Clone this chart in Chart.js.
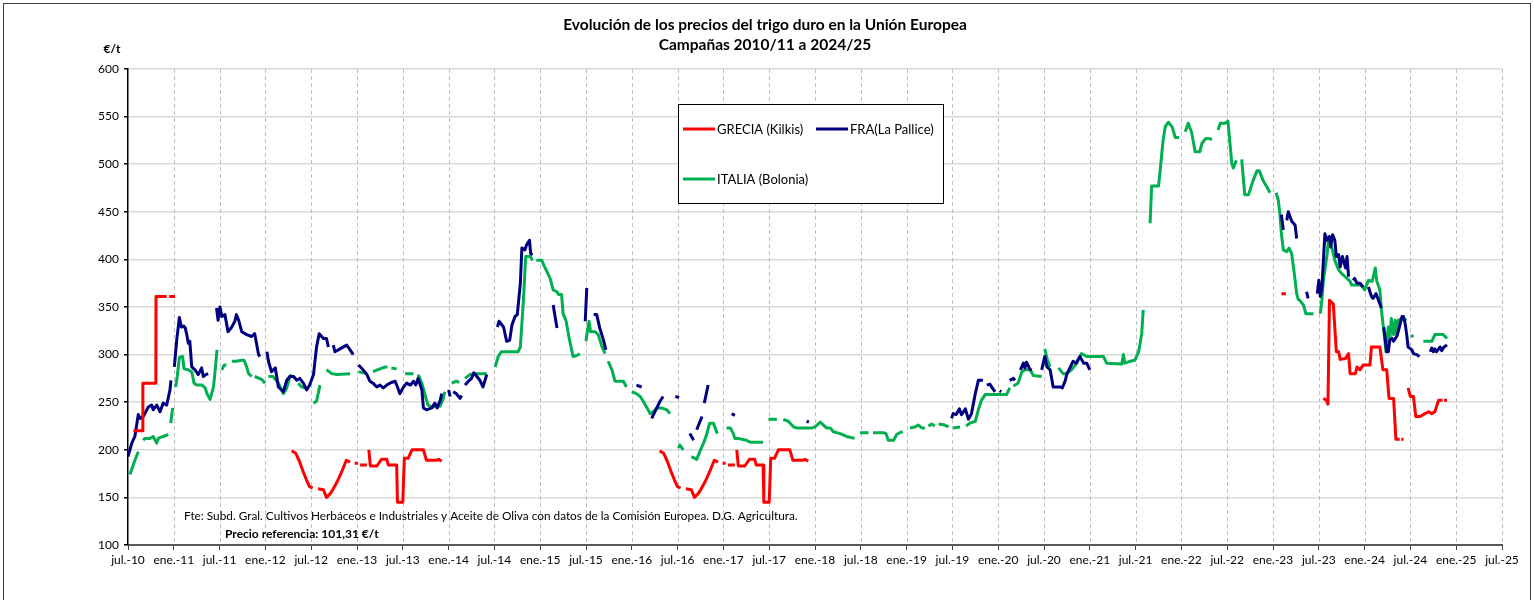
<!DOCTYPE html>
<html>
<head>
<meta charset="utf-8">
<title>Evolución de los precios del trigo duro</title>
<script src="https://cdn.jsdelivr.net/npm/chart.js@4.4.1/dist/chart.umd.min.js"></script>
<style>
  body { margin: 0; background: #fff; }
  #wrap { width: 1534px; height: 600px; }
</style>
</head>
<body>
<div id="wrap"><canvas id="trigoChart" width="1534" height="600"></canvas></div>
<script>
// x = months since jul.-10, null value = gap in the series
var greciaX = [0.7, 1.93, 1.95, 3.65, 3.67, 5.07, 5.1, 5.4, 6.16, 6.2,
  21.45, 22.0, 22.5, 23.0, 23.4, 23.8, 24.2, 24.5, 24.9, 25.6, 26.0, 26.5, 26.9, 27.5, 28.0, 28.6, 29.1, 29.4, 29.7, 30.1, 30.25, 30.4, 31.3, 31.4,
  31.55, 31.75, 32.6, 33.2, 33.9, 34.1, 35.2, 35.3, 36.0, 36.2, 36.7, 37.2, 38.7, 39.1, 40.4, 40.7, 41.1, 41.3,
  69.65, 70.2, 70.7, 71.2, 71.6, 72.0, 72.4, 72.7, 73.1, 73.8, 74.2, 74.7, 75.1, 75.7, 76.2, 76.8, 77.3, 77.6, 77.9, 78.3, 78.45, 78.6, 79.5, 79.6,
  79.75, 79.95, 80.8, 81.4, 82.1, 82.3, 83.2, 83.3, 84.0, 84.2, 84.7, 85.2, 86.7, 87.1, 88.4, 88.7, 89.1, 89.3,
  151.1, 151.7, 152,
  156.6, 157.0, 157.2, 157.4, 157.9, 158.3, 158.6, 158.8, 159.5, 159.9, 160.1, 160.8, 161.0, 161.4, 161.8, 162.7, 162.9, 164.0, 164.4, 164.9, 165.2, 165.8, 166.1, 166.6, 166.7, 166.8, 167.1, 167.4,
  167.7, 168.0, 168.4, 168.7, 169.3, 169.9, 170.4, 170.8, 171.2, 171.7, 172.2, 172.3, 172.4, 172.8];
var greciaY = [220, 220, 270, 270, 361, 361, null, 361, 361, null,
  199, 196, 187, 176, 168, 161, 160, null, 159, 158, 150, 154, 159, 168, 177, 189, 187, null, 186, 186, null, 184, 184, null,
  200, 183, 183, 190, 190, 184, 184, 145, 145, 191, 191, 200, 200, 189, 189, 190, 188, null,
  199, 196, 187, 176, 168, 161, 160, null, 159, 158, 150, 154, 159, 168, 177, 189, 187, null, 186, 186, null, 184, 184, null,
  200, 183, 183, 190, 190, 184, 184, 145, 145, 191, 191, 200, 200, 189, 189, 190, 188, null,
  364, 364, null,
  254, 252, 248, 357, 353, 303, 303, 295, 296, 301, 280, 280, 287, 284, 289, 289, 308, 308, 284, 284, 254, 254, 211, 211, null, 211, 211, null,
  265, 256, 256, 235, 235, 238, 240, 238, 240, 252, 252, null, 252, 252];

var fraX = [0, 0.5, 0.9, 1.35, 1.6, 2.0, 2.66, 3.1, 3.3, 3.76, 4.2, 4.6, 5.07, 5.5, 5.63, 5.8,
  6.07, 6.38, 6.73, 7.0, 7.3, 7.5, 7.7, 7.9, 8.1, 8.35, 8.78, 9.2, 9.65, 9.86, 10.2, 10.5, 11.0,
  11.6, 11.8, 12.05, 12.3, 12.7, 13.1, 13.6, 14.0, 14.2, 14.5, 14.9, 15.55, 16.2, 16.6, 17.1, 17.3, 17.8,
  18.2, 18.4, 18.8, 19.3, 19.7, 20.35, 20.8, 21.2, 21.7, 22.1, 22.5, 22.97, 23.4, 23.8, 24.3, 24.7, 25.05, 25.6, 26.0, 26.25, 26.6,
  26.9, 27.1, 27.55, 28.0, 28.65, 29.1, 29.5, 29.8,
  30.2, 30.8, 31.3, 31.7, 32.1, 32.6, 33.0, 33.45, 33.9, 34.3, 35.0, 35.3, 35.6, 36.1, 36.5, 37.0, 37.4, 37.7, 38.0, 38.5, 38.7, 39.1, 39.8, 40.2, 40.5, 40.9, 41.1, 41.5,
  42.0, 42.2, 42.4, 42.6, 43.0, 43.5, 43.7, 43.9,
  44.15, 44.6, 45.0, 45.3, 45.7, 46.1, 46.5, 47.0, 47.5,
  48.4, 48.6, 49.2, 49.6, 50.0, 50.3, 50.7, 51.0, 51.4, 51.6, 52.0, 52.2, 52.6, 52.75, 53.0, 54,
  55.7, 56.2, 57, 59.9, 60.1, 60.5,
  61.0, 61.4, 61.8, 62.3, 62.6, 63, 66.6, 67.3, 68,
  68.6, 69.7, 70.1, 71, 71.7, 72.2, 73, 73.6, 74.1, 74.3, 74.5, 75.2, 75.35, 75.5, 76.0, 77, 79.1, 79.5, 80, 88.9, 89.2, 90,
  107.9, 108.1, 108.5, 108.9, 109.2, 109.7, 110.1, 110.5, 111.0, 111.4, 112.0, 112.2,
  112.5, 112.9, 113.4, 113.6, 113.9, 114.2, 114.4, 114.9, 115.5, 116.0, 116.2, 116.5,
  116.9, 117.3, 117.5, 117.7, 118.2, 118.4, 119,
  119.7, 120.1, 120.4, 120.8, 121.2, 121.7, 122.1, 122.4, 122.8, 123.0, 123.4, 123.8, 124.2, 124.7, 125.2, 125.6, 126.0, 127,
  151.1, 151.35, 151.6, 151.8, 152.0, 152.45, 152.9, 153.1, 153.8, 154.4, 154.6, 155.2,
  155.8, 156.0, 156.2, 156.4, 156.8, 157.0, 157.4, 157.55, 157.8, 158.1, 158.3, 158.6, 158.8, 159.1, 159.5, 159.7, 159.9, 160.2,
  160.5, 160.7, 161.0, 161.4, 161.8, 162.1, 162.5, 162.9, 163.1, 163.5, 164.2, 164.35,
  164.5, 164.9, 165.1, 165.3, 165.6, 165.8, 166.2, 166.4, 166.9, 167.1, 167.3, 167.5, 167.7, 168.2, 168.4, 168.8, 169.2, 169.9,
  170.6, 170.8, 171.0, 171.2, 171.4, 171.9, 172.1, 172.4, 172.8];
var fraY = [193, 207, 214, 237, 233, 235, 245, 247, 242, 247, 240, 249, 247, 263, 273, null,
  287, 315, 339, 329, 330, 328, 321, 312, 314, 287, 284, 279, 286, 277, 279, 280, null,
  349, 336, 350, 340, 342, 324, 329, 335, 342, 336, 324, 321, 319, 322, 300, 298, null,
  303, 293, 282, 286, 266, 261, 273, 277, 277, 273, 275, 270, 263, 268, 279, 308, 322, 317, 317, 308, null,
  310, 303, 305, 307, 310, 305, 300, null,
  289, 284, 279, 272, 270, 266, 268, 265, 268, 270, 272, 266, 259, 266, 270, 268, 272, 268, 275, 263, 244, 242, 244, 249, 244, 252, 259, null,
  263, 256, null, 261, 259, 254, 257, null,
  268, 272, 275, 281, 277, 273, 266, 279, null,
  329, 335, 329, 314, 315, 331, 340, 342, 375, 412, 410, 415, 420, 406, 405, null,
  352, 328, null, 335, 370, null,
  342, 342, 328, 315, 305, null, 268, 266, null,
  233, 251, 256, null, 256, 255, null, 217, 210, null, 221, 235, null, 249, 268, null, 238, 236, null, 230, 229, null,
  233, 238, 237, 243, 237, 243, 232, 238, 259, 273, 273, null,
  268, 269, 263, 261, null, 262, 261, null, 273, 275, 273, null,
  284, 291, 286, 292, 284, 284, null,
  284, 298, 287, 284, 266, 266, 266, 265, 273, 280, 286, 293, 291, 298, 291, 291, 284, null,
  447, 431, null, 441, 450, 440, 436, 422, null, 366, 359, null,
  364, 378, 361, 370, 427, 420, 424, 413, 426, 420, 403, 405, 392, 403, 391, 403, 382, null,
  378, 380, 375, 375, 371, null, 371, 361, 359, 364, 349, null,
  329, 303, 303, 315, 317, 314, 319, 324, 340, 340, 333, 322, 308, 305, 301, 300, 298, null,
  303, 307, 303, 306, 303, 308, 304, 308, 310];

var italiaX = [0.26, 0.9, 1.35, 1.7,
  2.0, 2.2, 2.9, 3.3, 3.76, 3.97, 4.6, 5.28, 5.45, 5.6, 5.85, 6.0,
  6.24, 6.45, 6.73, 7.15, 7.34, 7.9, 8.35, 8.65, 9.0, 9.7, 10.1, 10.4, 10.75, 11.2, 11.4, 11.66, 12.0,
  12.3, 12.6, 12.9, 13.3, 13.6, 14.2, 14.9, 15.2, 15.55, 15.8, 16.2, 16.4, 16.6, 17.5, 17.95, 18.2,
  18.4, 19.0, 19.7, 20.35, 20.8, 21.2, 21.45, 21.9, 22.3, 22.75, 23.4, 23.9, 24.3, 24.7, 25.15, 25.6,
  26.0, 26.7, 27.35, 29.1, 29.6, 30.2, 31.3, 31.7, 32.1, 33.0, 33.7, 34.0, 34.3, 34.5, 35.2, 35.8,
  36.3, 37.4, 37.7, 38.0, 38.5, 38.9, 39.3, 39.8, 40.9, 41.3, 41.5, 42.0,
  42.4, 43.0, 43.4, 43.8, 44.15, 44.8, 45.5, 47.0, 47.6,
  48.1, 48.5, 48.9, 51.1, 51.4, 51.8, 52.1, 52.7, 53.0, 53.3,
  53.5, 54.2, 54.6, 55.3, 55.7, 56.2, 56.4, 56.8, 57.0, 57.4, 57.8, 58.3, 58.8, 59.2, 59.6,
  60.0, 60.2, 60.4, 60.6, 61.2, 61.6, 62.1, 62.5, 62.7,
  62.9, 63.4, 63.8, 64.9, 65.3, 65.6,
  66.0, 66.6, 67.1, 67.5, 68.0, 68.4, 68.8, 69.3, 69.9, 70.6, 71.0, 71.5,
  72.1, 72.3, 72.75, 73.2,
  73.8, 74.5, 74.9, 75.4, 75.8, 76.2, 76.7, 77.2, 77.8,
  78.4, 78.9, 79.3, 79.5, 80.0, 80.4, 81.0, 81.5, 83.2, 83.5,
  83.9, 85.0, 85.4, 85.85, 86.5, 87.2, 87.6, 89.6, 90.0, 90.7, 91.1, 91.5, 92.0, 92.4, 93.3, 94.15, 95.2, 95.5,
  95.9, 97.0, 97.3, 97.6, 99.0, 99.3, 99.6, 100.3, 100.7, 101.1, 101.5, 102.0,
  102.45, 103.1, 103.5, 104.0, 104.4, 104.6, 104.85, 105.3, 105.7, 105.9,
  106.2, 107.0, 107.5, 107.8, 108.1, 109.0, 109.4,
  109.8, 110.3, 111.0, 111.4, 111.8, 112.3, 115.1, 115.5, 115.7,
  116.0, 116.6, 117.1, 117.5, 118.2, 118.6, 119.7, 119.9,
  120.1, 120.4, 120.8, 121.4,
  121.9, 122.5, 123.0, 123.6, 124.3, 124.9, 125.6, 127.8, 128.2, 130.2, 130.4, 130.6, 131.3, 131.9, 132.4, 132.8, 133.0, 133.5,
  133.9, 134.1, 135.0, 135.2, 135.6, 135.9, 136.3, 136.8, 137.2, 137.7, 138.1,
  138.5, 138.9, 139.35, 139.8, 140.4, 140.7, 141.2, 141.6, 142.0, 142.4,
  142.8, 143.1, 143.7, 144.1, 144.6, 144.8, 145.2, 145.5,
  145.9, 146.3, 146.8, 147.4, 147.9, 148.2, 148.7, 149.2, 149.6, 150.0,
  150.4, 150.7, 150.9, 151.1, 151.35, 151.8, 152.1, 152.45, 152.9, 153.1, 153.3, 153.5, 154.0, 154.3, 155.3, 155.7,
  156.2, 156.4, 156.6, 157.1, 157.3, 157.7, 158.1, 158.6, 159.0, 159.7, 160.1, 160.3, 161.6, 162.0, 162.5, 163.0, 163.4, 163.6, 164.0, 164.2,
  164.6, 164.8, 165.1, 165.3, 165.5, 165.8, 166.0, 166.2, 166.4, 166.9, 167.5, 167.8,
  168.2, 168.3, 169.0,
  169.7, 170.8, 171.2, 172.3, 172.8];
var italiaY = [174, 189, 198, null,
  210, 212, 212, 214, 207, 212, 214, 216, null, 228, 244, null,
  266, 277, 297, 298, 285, 284, 282, 270, 268, 268, 265, 258, 253, 266, 282, 305, null,
  284, 289, 289, null, 293, 293, 294, 294, 287, 280, 277, null, 277, 274, 270, null,
  277, 277, 270, 259, 265, 277, 279, null, 270, 266, 265, null, 249, 251, 268, null,
  284, 280, 279, 280, null, 282, 280, null, 282, 285, 287, 287, null, 286, 285, null,
  280, 280, null, 279, 270, 258, 247, 245, 246, 254, 261, null,
  270, 272, 271, null, 275, 279, 280, 280, null,
  287, 298, 303, 303, 308, 357, 403, 403, 399, null,
  399, 399, 392, 380, 368, 366, 363, 363, 343, 335, 317, 298, 299, 301, null,
  314, 326, 335, 324, 324, 321, 308, 301, null,
  293, 284, 272, 272, 266, null,
  261, 259, 256, 251, 244, 238, 240, 244, 244, 242, 238, null,
  202, 205, 200, null,
  193, 190, 198, 207, 216, 228, 228, 217, null,
  223, 223, 217, 212, 212, 211, 210, 208, 208, null,
  232, 232, null, 232, 230, 224, 223, 223, 224, 229, 226, 223, 223, 219, 217, 214, 212, null,
  218, 218, null, 218, 218, 217, 210, 210, 216, 218, 219, null,
  223, 224, 226, 223, 223, null, 225, 227, 225, null,
  227, 226, 224, null, 223, 224, null,
  225, 228, 230, 242, 252, 258, 258, 265, null,
  267, 270, 282, 284, 284, 278, 277, null,
  306, 296, 287, null,
  286, 280, 280, 284, 291, 301, 298, 298, 291, 290, 300, 291, 293, 294, 303, 322, 347, null,
  438, 477, 477, 492, 525, 540, 544, 539, 528, 528, null,
  534, 543, 533, 513, 513, 522, 527, 527, 526, null,
  536, 543, 543, 545, 501, 496, 504, null,
  505, 468, 468, 483, 493, 493, 483, 476, 470, null,
  470, 462, 448, 427, 410, 408, 412, 406, 378, 364, 358, 357, 352, 343, 343, null,
  343, 357, 378, 406, 424, 413, 399, 389, 385, 380, 377, 373, 373, 368, 378, 377, 391, 377, 368, 347,
  319, 303, 329, 315, 338, 321, 336, 322, 336, 338, 336, null,
  321, 318, null,
  314, 314, 321, 321, 317];

var seriesNames = ['GRECIA (Kilkis)', 'FRA(La Pallice)', 'ITALIA (Bolonia)'];
var seriesColors = ['#FF0000', '#000080', '#00B050'];
var yTicks = [100, 150, 200, 250, 300, 350, 400, 450, 500, 550, 600];

function toPoints(xs, ys) {
    var pts = [];
    for (var i = 0; i < xs.length; i++) {
        pts.push({ x: xs[i], y: ys[i] });
    }
    return pts;
}

function tickLabel(m) {
    var yy = 10 + Math.floor((m + 6) / 12);
    return (m % 12 === 0 ? 'jul.-' : 'ene.-') + yy;
}

var FONT = 'Lato, "Open Sans", sans-serif';

// dashed vertical grid lines, one per half year
var dashedGrid = {
    id: 'dashedGrid',
    beforeDatasetsDraw: function(chart) {
        var ctx = chart.ctx, area = chart.chartArea, xs = chart.scales.x;
        ctx.save();
        ctx.strokeStyle = '#bfbfbf';
        ctx.lineWidth = 1;
        ctx.setLineDash([4, 3]);
        for (var m = 6; m <= 180; m += 6) {
            var px = Math.round(xs.getPixelForValue(m)) + 0.5;
            ctx.beginPath();
            ctx.moveTo(px, area.top);
            ctx.lineTo(px, area.bottom);
            ctx.stroke();
        }
        ctx.restore();
    }
};

// title, unit, legend box and notes drawn on top
var decorations = {
    id: 'decorations',
    afterDraw: function(chart) {
        var ctx = chart.ctx;
        ctx.save();
        ctx.strokeStyle = '#404040';
        ctx.lineWidth = 1;
        ctx.strokeRect(3.5, 3.5, 1527, 610);

        ctx.fillStyle = '#000';
        ctx.textAlign = 'center';
        ctx.textBaseline = 'middle';
        ctx.font = 'bold 15.5px ' + FONT;
        ctx.fillText('Evolución de los precios del trigo duro en la Unión Europea', 765, 25);
        ctx.fillText('Campañas 2010/11 a 2024/25', 765, 45);

        ctx.font = 'bold 12px ' + FONT;
        ctx.fillText('€/t', 112, 49);

        // legend
        ctx.fillStyle = '#fff';
        ctx.fillRect(678, 104, 265, 99);
        ctx.strokeStyle = '#000';
        ctx.strokeRect(678.5, 104.5, 265, 99);
        var items = [[683, 129], [816, 129], [683, 179]];
        ctx.font = '13px ' + FONT;
        ctx.textAlign = 'left';
        for (var i = 0; i < items.length; i++) {
            ctx.strokeStyle = seriesColors[i];
            ctx.lineWidth = 3;
            ctx.beginPath();
            ctx.moveTo(items[i][0], items[i][1]);
            ctx.lineTo(items[i][0] + 32, items[i][1]);
            ctx.stroke();
            ctx.fillStyle = '#000';
            ctx.fillText(seriesNames[i], items[i][0] + 34, items[i][1] + 1);
        }

        ctx.font = '11.8px ' + FONT;
        ctx.fillText('Fte: Subd. Gral. Cultivos Herbáceos e Industriales y Aceite de Oliva con datos de la Comisión Europea. D.G. Agricultura.', 184, 516);
        ctx.font = 'bold 12px ' + FONT;
        ctx.fillText('Precio referencia: 101,31 €/t', 225, 534);
        ctx.restore();
    }
};

var ctx = document.getElementById('trigoChart').getContext('2d');
var trigoChart = new Chart(ctx, {
    type: 'line',
    data: {
        datasets: [
            { label: seriesNames[0], data: toPoints(greciaX, greciaY), borderColor: seriesColors[0] },
            { label: seriesNames[1], data: toPoints(fraX, fraY), borderColor: seriesColors[1] },
            { label: seriesNames[2], data: toPoints(italiaX, italiaY), borderColor: seriesColors[2] }
        ]
    },
    options: {
        responsive: false,
        animation: false,
        spanGaps: false,
        elements: {
            point: { radius: 0, hoverRadius: 0 },
            line: { borderWidth: 3, tension: 0, borderCapStyle: 'butt', borderJoinStyle: 'round' }
        },
        layout: { padding: { top: 69, right: 32, bottom: 0, left: 0 } },
        plugins: {
            legend: { display: false },
            title: { display: false },
            tooltip: { enabled: false }
        },
        scales: {
            x: {
                type: 'linear',
                min: 0,
                max: 180,
                afterFit: function(scale) { scale.height = 55; },
                afterBuildTicks: function(scale) {
                    var t = [];
                    for (var m = 0; m <= 180; m += 6) t.push({ value: m });
                    scale.ticks = t;
                },
                ticks: {
                    autoSkip: false,
                    maxRotation: 0,
                    padding: 3,
                    color: '#000',
                    font: { family: FONT, size: 12 },
                    callback: function(v) { return tickLabel(v); }
                },
                grid: {
                    drawOnChartArea: false,
                    tickLength: 5,
                    tickColor: '#404040'
                },
                border: { display: true, color: '#595959', width: 2 }
            },
            y: {
                min: 100,
                max: 600,
                afterFit: function(scale) { scale.width = 128; },
                afterBuildTicks: function(scale) {
                    scale.ticks = yTicks.map(function(v) { return { value: v }; });
                },
                ticks: {
                    padding: 5,
                    color: '#000',
                    font: { family: FONT, size: 12 }
                },
                grid: {
                    color: '#d9d9d9',
                    lineWidth: 1.5,
                    tickLength: 4,
                    tickColor: '#000'
                },
                border: { display: true, color: '#000', width: 1.5 }
            }
        }
    },
    plugins: [dashedGrid, decorations]
});
</script>
</body>
</html>
